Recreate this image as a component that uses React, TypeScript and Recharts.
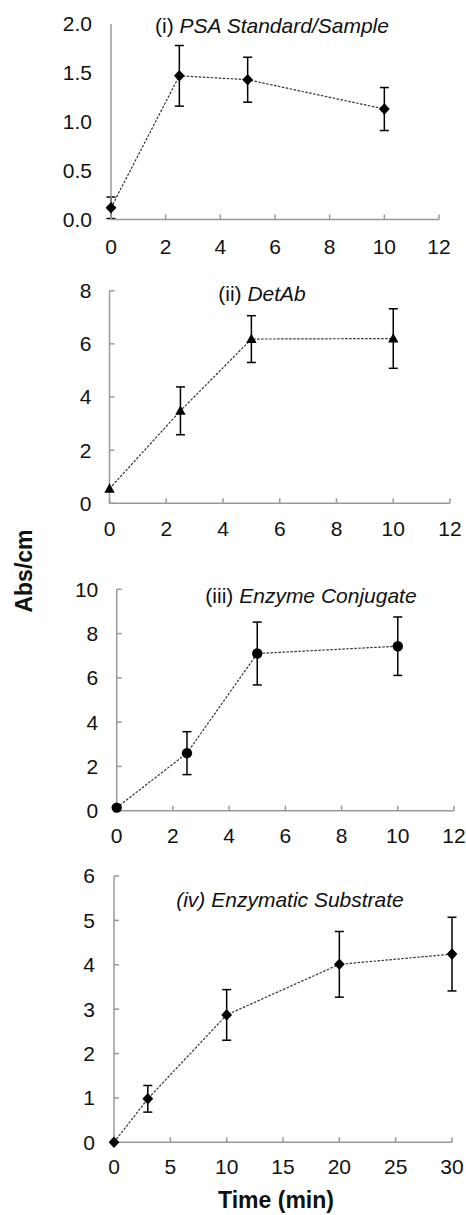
import React from "react";
import { LineChart, Line, XAxis, YAxis, ErrorBar } from "recharts";

// (i) PSA standard/sample incubation
const psaTime = [0, 2.5, 5, 10];
const psaAbs = [0.12, 1.47, 1.43, 1.13];
const psaErr = [0.11, 0.31, 0.23, 0.22];

// (ii) detection antibody
const detTime = [0, 2.5, 5, 10];
const detAbs = [0.55, 3.48, 6.18, 6.2];
const detErr = [null, 0.9, 0.88, 1.12];

// (iii) enzyme conjugate
const conjTime = [0, 2.5, 5, 10];
const conjAbs = [0.14, 2.6, 7.1, 7.43];
const conjErr = [null, 0.97, 1.42, 1.32];

// (iv) enzymatic substrate
const subTime = [0, 3, 10, 20, 30];
const subAbs = [0, 0.98, 2.87, 4.01, 4.24];
const subErr = [null, 0.3, 0.57, 0.74, 0.83];

const minTicks = [0, 2, 4, 6, 8, 10, 12];
const subTicks = [0, 5, 10, 15, 20, 25, 30];
const psaYTicks = [0, 0.5, 1, 1.5, 2];
const detYTicks = [0, 2, 4, 6, 8];
const conjYTicks = [0, 2, 4, 6, 8, 10];
const subYTicks = [0, 1, 2, 3, 4, 5, 6];

const FONT = "'Liberation Sans', Arial, sans-serif";
const AXIS = "#999";
const tickStyle = { fill: "#111", fontSize: 21, fontFamily: FONT };

const toRows = (t: number[], v: number[], e: (number | null)[]) =>
  t.map((time, i) => ({ time, abs: v[i], err: e[i] }));

const Diamond = ({ cx, cy }: any) => (
  <polygon
    points={`${cx},${cy - 5.8} ${cx + 5.4},${cy} ${cx},${cy + 5.8} ${cx - 5.4},${cy}`}
    fill="#000"
  />
);
const Triangle = ({ cx, cy }: any) => (
  <polygon
    points={`${cx},${cy - 5.5} ${cx + 5.2},${cy + 4} ${cx - 5.2},${cy + 4}`}
    fill="#000"
  />
);
const Circle = ({ cx, cy }: any) => <circle cx={cx} cy={cy} r={5.2} fill="#000" />;

function Panel(props: any) {
  const { top, height, margin, data, xMax, xTicks, yMax, yTicks, yFmt, yTickLen, yTickMargin, xTickMargin, Shape } = props;
  return (
    <div style={{ position: "absolute", top, left: 0 }}>
      <LineChart width={466} height={height} data={data} margin={margin}>
        <XAxis
          dataKey="time"
          type="number"
          domain={[0, xMax]}
          ticks={xTicks}
          height={30}
          stroke={AXIS}
          strokeWidth={1.5}
          tickSize={-5}
          tickMargin={xTickMargin}
          tick={tickStyle}
          interval={0}
        />
        <YAxis
          type="number"
          domain={[0, yMax]}
          ticks={yTicks}
          width={60}
          stroke={AXIS}
          strokeWidth={1.5}
          tickLine={yTickLen !== 0}
          tickSize={-yTickLen}
          tickMargin={yTickMargin}
          tickFormatter={yFmt}
          tick={tickStyle}
          interval={0}
        />
        <Line
          dataKey="abs"
          stroke="#333"
          strokeWidth={1.2}
          strokeDasharray="2.5 1.5"
          isAnimationActive={false}
          dot={(p: any) => <Shape key={p.index} cx={p.cx} cy={p.cy} />}
          activeDot={false}
        >
          <ErrorBar dataKey="err" direction="y" width={4.5} stroke="#000" strokeWidth={1.5} />
        </Line>
      </LineChart>
    </div>
  );
}

const titleStyle = (x: number, y: number): React.CSSProperties => ({
  position: "absolute",
  left: x,
  top: y,
  transform: "translate(-50%, -50%)",
  fontSize: 21,
  lineHeight: 1,
  whiteSpace: "nowrap",
  color: "#111",
});

export default function App() {
  return (
    <div
      style={{
        position: "absolute",
        top: 0,
        left: 0,
        width: 466,
        height: 1215,
        background: "#fff",
        fontFamily: FONT,
        overflow: "hidden",
      }}
    >
      <Panel
        top={0}
        height={260}
        margin={{ top: 24, right: 27, bottom: 10.5, left: 51 }}
        data={toRows(psaTime, psaAbs, psaErr)}
        xMax={12}
        xTicks={minTicks}
        yMax={2}
        yTicks={psaYTicks}
        yFmt={(v: number) => v.toFixed(1)}
        yTickLen={0}
        yTickMargin={19}
        xTickMargin={25}
        Shape={Diamond}
      />
      <Panel
        top={260}
        height={290}
        margin={{ top: 30.7, right: 16, bottom: 16.7, left: 49.5 }}
        data={toRows(detTime, detAbs, detErr)}
        xMax={12}
        xTicks={minTicks}
        yMax={8}
        yTicks={detYTicks}
        yTickLen={5}
        yTickMargin={23}
        xTickMargin={22.5}
        Shape={Triangle}
      />
      <Panel
        top={550}
        height={310}
        margin={{ top: 39.3, right: 12, bottom: 19.3, left: 56.7 }}
        data={toRows(conjTime, conjAbs, conjErr)}
        xMax={12}
        xTicks={minTicks}
        yMax={10}
        yTicks={conjYTicks}
        yTickLen={5}
        yTickMargin={23.4}
        xTickMargin={22.8}
        Shape={Circle}
      />
      <Panel
        top={860}
        height={320}
        margin={{ top: 16, right: 14, bottom: 7.7, left: 54 }}
        data={toRows(subTime, subAbs, subErr)}
        xMax={30}
        xTicks={subTicks}
        yMax={6}
        yTicks={subYTicks}
        yTickLen={5}
        yTickMargin={24}
        xTickMargin={22}
        Shape={Diamond}
      />

      <div style={titleStyle(272, 25)}>
        (i) <i>PSA Standard/Sample</i>
      </div>
      <div style={titleStyle(262, 293)}>
        (ii) <i>DetAb</i>
      </div>
      <div style={titleStyle(311, 595)}>
        (iii) <i>Enzyme Conjugate</i>
      </div>
      <div style={titleStyle(290, 899)}>
        <i>(iv) Enzymatic Substrate</i>
      </div>

      <div
        style={{
          ...titleStyle(24, 571),
          transform: "translate(-50%, -50%) rotate(-90deg)",
          fontSize: 23,
          fontWeight: "bold",
        }}
      >
        Abs/cm
      </div>
      <div style={{ ...titleStyle(276, 1200), fontSize: 23, fontWeight: "bold" }}>Time (min)</div>
    </div>
  );
}
